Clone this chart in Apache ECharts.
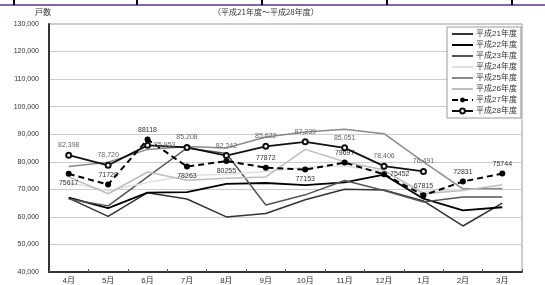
<!DOCTYPE html>
<html>
<head>
<meta charset="utf-8">
<script src="https://cdn.jsdelivr.net/npm/echarts@6/dist/echarts.min.js"></script>
<style>
  html, body { margin: 0; padding: 0; background: #fff; }
  #main { width: 545px; height: 285px; }
</style>
</head>
<body>
<div id="main"></div>
<script>
"use strict";

// 月
const months = ['4月', '5月', '6月', '7月', '8月', '9月', '10月', '11月', '12月', '1月', '2月', '3月'];

// 年度別の戸数
const h21 = [66800, 60200, 68800, 66500, 60000, 61200, 66200, 70000, 69800, 65800, 56700, 65000];
const h22 = [67000, 63200, 68800, 69000, 72000, 72300, 71500, 72500, 75300, 66600, 62400, 63500];
const h23 = [66500, 64000, 74500, 85000, 83000, 64300, 68000, 73200, 69600, 65400, 67200, 67200];
const h24 = [72500, 69500, 72500, 75000, 75500, 76500, 78000, 78500, 76500, 69000, 70000, 70500];
const h25 = [78300, 79800, 84500, 85500, 85000, 89000, 90800, 91800, 90200, 80000, 70200, 70200];
const h26 = [74500, 68400, 76300, 73300, 74000, 74500, 84500, 80000, 77000, 68400, 69600, 71700];
const h27 = [75617, 71720, 88118, 78263, 80255, 77872, 77153, 79697, 75452, 67815, 72831, 75744];
const h28 = [82398, 78720, 85953, 85208, 82242, 85622, 87239, 85051, 78406, 76491, null, null];

const seriesNames = ['平成21年度', '平成22年度', '平成23年度', '平成24年度', '平成25年度', '平成26年度', '平成27年度', '平成28年度'];

// ラベル位置
const h27LabelPos = ['bottom', 'top', 'top', 'bottom', 'bottom', 'top', 'bottom', 'top', 'right', 'top', 'top', 'top'];
const h28LabelPos = ['top', 'top', 'right', 'top', 'top', 'top', 'top', 'top', 'top', 'top', 'top', 'top'];

const FONT = '"Liberation Sans", "Noto Sans CJK JP", sans-serif';

const withComma = v => String(v).replace(/\B(?=(\d{3})+(?!\d))/g, ',');

const plain = (name, data, color, width) => ({
    name: name,
    type: 'line',
    data: data,
    symbol: 'none',
    lineStyle: { color: color, width: width },
    itemStyle: { color: color },
    z: 2
});

const chart = echarts.init(document.getElementById('main'), null, { renderer: 'canvas' });

const option = {
    animation: false,
    textStyle: { fontFamily: FONT },
    grid: {
        left: 49, right: 23, top: 24, bottom: 12,
        show: true, borderColor: '#999', borderWidth: 1
    },
    legend: {
        orient: 'vertical',
        left: 447, top: 27,
        padding: [3, 4, 3, 4],
        itemWidth: 21, itemHeight: 6, itemGap: 3,
        backgroundColor: '#fff',
        borderColor: '#999', borderWidth: 1, borderRadius: 0,
        textStyle: { fontSize: 8, lineHeight: 8, color: '#333', fontFamily: FONT, padding: [0, 0, 0, -2] },
        data: seriesNames.map((n, i) => i < 6 ? { name: n, itemStyle: { opacity: 0 } } : { name: n })
    },
    xAxis: {
        type: 'category',
        data: months,
        boundaryGap: true,
        axisLine: { lineStyle: { color: '#333', width: 2 } },
        axisTick: { show: true, inside: true, length: 3, lineStyle: { color: '#555' } },
        axisLabel: { fontSize: 8, color: '#333', margin: 5, fontFamily: FONT }
    },
    yAxis: {
        type: 'value',
        min: 40000, max: 130000, interval: 10000,
        axisLine: { show: true, lineStyle: { color: '#333', width: 2 } },
        axisTick: { show: false },
        splitLine: { lineStyle: { color: '#ccc', width: 1 } },
        axisLabel: { fontSize: 7, color: '#333', margin: 10, fontFamily: FONT, formatter: withComma }
    },
    graphic: [
        { type: 'line', shape: { x1: 0, y1: 5, x2: 545, y2: 5 }, style: { stroke: '#8466a8', lineWidth: 2 } },
        { type: 'rect', shape: { x: 13, y: 0, width: 2, height: 5 }, style: { fill: '#000' } },
        { type: 'rect', shape: { x: 136, y: 0, width: 2, height: 5 }, style: { fill: '#000' } },
        { type: 'rect', shape: { x: 261, y: 0, width: 2, height: 5 }, style: { fill: '#000' } },
        { type: 'rect', shape: { x: 386, y: 0, width: 2, height: 5 }, style: { fill: '#000' } },
        { type: 'rect', shape: { x: 511, y: 0, width: 2, height: 5 }, style: { fill: '#000' } },
        { type: 'text', left: 35, top: 8, style: { text: '戸数', fill: '#333', font: '8px "Noto Sans CJK JP"' } },
        { type: 'text', left: 213, top: 8, style: { text: '（平成21年度～平成28年度）', fill: '#333', font: '8px "Noto Sans CJK JP"' } }
    ],
    series: [
        plain(seriesNames[0], h21, '#333', 1.5),
        plain(seriesNames[1], h22, '#000', 1.8),
        plain(seriesNames[2], h23, '#555', 1.5),
        plain(seriesNames[3], h24, '#e0e0e0', 1.5),
        plain(seriesNames[4], h25, '#8a8a8a', 1.5),
        plain(seriesNames[5], h26, '#bdbdbd', 1.5),
        {
            name: seriesNames[6],
            type: 'line',
            data: h27.map((v, i) => ({ value: v, label: { position: h27LabelPos[i] } })),
            symbol: 'circle',
            symbolSize: 6,
            lineStyle: { color: '#000', width: 2, type: [6, 4] },
            itemStyle: { color: '#000' },
            label: { show: true, fontSize: 7, color: '#333', distance: 3, fontFamily: FONT },
            z: 4
        },
        {
            name: seriesNames[7],
            type: 'line',
            data: h28.map((v, i) => ({ value: v, label: { position: h28LabelPos[i] } })),
            symbol: 'emptyCircle',
            symbolSize: 5,
            lineStyle: { color: '#111', width: 1.8 },
            itemStyle: { color: '#111', borderWidth: 1 },
            label: { show: true, fontSize: 7, color: '#666', distance: 3, fontFamily: FONT, formatter: p => withComma(p.value) },
            z: 5
        }
    ]
};

chart.setOption(option);
</script>
</body>
</html>
